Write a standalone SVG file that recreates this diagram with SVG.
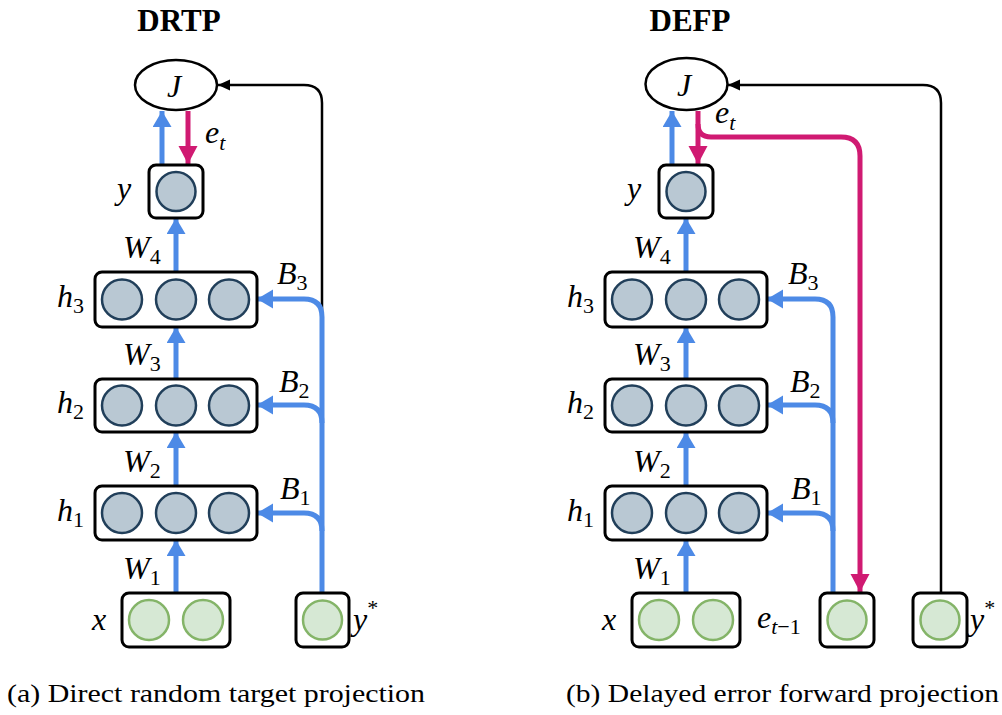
<svg xmlns="http://www.w3.org/2000/svg" width="1002" height="715" viewBox="0 0 1002 715">
  <style>
    .title { font-family: "Liberation Serif", "Times New Roman", serif; font-weight: bold; font-size: 31px; text-anchor: middle; fill: #000; }
    .math { font-family: "Liberation Serif", "Times New Roman", serif; font-style: italic; font-size: 32px; fill: #000; }
    .sub { font-family: "Liberation Serif", "Times New Roman", serif; font-size: 22px; font-style: normal; }
    .subi { font-family: "Liberation Serif", "Times New Roman", serif; font-size: 22px; font-style: italic; }
    .cap { font-family: "Liberation Serif", "Times New Roman", serif; font-size: 26px; fill: #000; }
    .box { fill: #fff; stroke: #000; stroke-width: 3; }
    .hid { fill: #b9c8d3; stroke: #213f5a; stroke-width: 2.5; }
    .inp { fill: #d6e8d4; stroke: #84b468; stroke-width: 2.5; }
    .ell { fill: #fff; stroke: #000; stroke-width: 2.5; }
    .blue { fill: none; stroke: #4d8ae6; stroke-width: 5; }
    .mag { fill: none; stroke: #d01a72; stroke-width: 5; }
    .blk { fill: none; stroke: #000; stroke-width: 2.5; }
  </style>
  <defs>
    <marker id="ahBlue" markerUnits="userSpaceOnUse" markerWidth="18" markerHeight="20" refX="16" refY="9.5" orient="auto">
      <path d="M0,0 L16,9.5 L0,19 Z" fill="#4d8ae6"/>
    </marker>
    <marker id="ahMag" markerUnits="userSpaceOnUse" markerWidth="20" markerHeight="20" refX="18" refY="9.5" orient="auto">
      <path d="M0,0 L18,9.5 L0,19 Z" fill="#d01a72"/>
    </marker>
    <marker id="ahBlk" markerUnits="userSpaceOnUse" markerWidth="14" markerHeight="12" refX="12" refY="5.5" orient="auto">
      <path d="M0,0 L12,5.5 L0,11 Z" fill="#000"/>
    </marker>
  </defs>

  <!-- ===================== DRTP ===================== -->
  <text class="title" x="179" y="31">DRTP</text>

  <!-- connectors (DRTP) -->
  <g id="drtp-edges">
    <path class="blk" d="M322,593 V103 Q322,85 304,85 H218" marker-end="url(#ahBlk)"/>
    <path class="blue" d="M162,165 V111" marker-end="url(#ahBlue)"/>
    <path class="mag" d="M188,111 V164" marker-end="url(#ahMag)"/>
    <path class="blue" d="M176,272 V218" marker-end="url(#ahBlue)"/>
    <path class="blue" d="M176,379 V327" marker-end="url(#ahBlue)"/>
    <path class="blue" d="M176,486 V432" marker-end="url(#ahBlue)"/>
    <path class="blue" d="M176,593 V540" marker-end="url(#ahBlue)"/>
    <path class="blue" d="M322,593 V317 Q322,299 304,299 H257" marker-end="url(#ahBlue)"/>
    <path class="blue" d="M322,423 Q322,405 304,405 H257" marker-end="url(#ahBlue)"/>
    <path class="blue" d="M322,531 Q322,513 304,513 H257" marker-end="url(#ahBlue)"/>
  </g>

  <g id="drtp-J">
    <ellipse class="ell" cx="176" cy="85" rx="41" ry="25"/>
    <text class="math" x="174" y="97" text-anchor="middle" font-size="34">J</text>
  </g>
  <g id="drtp-y">
    <rect class="box" x="149" y="165" width="54" height="53" rx="7"/>
    <circle class="hid" cx="176" cy="191.5" r="19.5"/>
    <text class="math" x="117" y="199">y</text>
  </g>
  <g id="drtp-h3">
    <rect class="box" x="95" y="272" width="162" height="55" rx="7"/>
    <circle class="hid" cx="122" cy="299.5" r="20"/>
    <circle class="hid" cx="176" cy="299.5" r="20"/>
    <circle class="hid" cx="229" cy="299.5" r="20"/>
    <text class="math" x="57" y="307">h<tspan class="sub" dy="6">3</tspan></text>
  </g>
  <g id="drtp-h2">
    <rect class="box" x="95" y="379" width="162" height="53" rx="7"/>
    <circle class="hid" cx="122" cy="405.5" r="20"/>
    <circle class="hid" cx="176" cy="405.5" r="20"/>
    <circle class="hid" cx="229" cy="405.5" r="20"/>
    <text class="math" x="57" y="413">h<tspan class="sub" dy="6">2</tspan></text>
  </g>
  <g id="drtp-h1">
    <rect class="box" x="95" y="486" width="162" height="54" rx="7"/>
    <circle class="hid" cx="122" cy="513" r="20"/>
    <circle class="hid" cx="176" cy="513" r="20"/>
    <circle class="hid" cx="229" cy="513" r="20"/>
    <text class="math" x="57" y="521">h<tspan class="sub" dy="6">1</tspan></text>
  </g>
  <g id="drtp-x">
    <rect class="box" x="122" y="593" width="108" height="54" rx="7"/>
    <circle class="inp" cx="149" cy="620" r="20"/>
    <circle class="inp" cx="203" cy="620" r="20"/>
    <text class="math" x="92" y="630">x</text>
  </g>
  <g id="drtp-ystar">
    <rect class="box" x="296" y="593" width="53" height="54" rx="7"/>
    <circle class="inp" cx="322.5" cy="620" r="19.5"/>
    <text class="math" x="353" y="630">y<tspan class="sub" dy="-15">*</tspan></text>
  </g>

  <g id="drtp-labels">
    <text class="math" x="205" y="143">e<tspan class="subi" dy="7">t</tspan></text>
    <text class="math" x="123" y="258">W<tspan class="sub" dy="6">4</tspan></text>
    <text class="math" x="123" y="365">W<tspan class="sub" dy="6">3</tspan></text>
    <text class="math" x="123" y="472">W<tspan class="sub" dy="6">2</tspan></text>
    <text class="math" x="123" y="579">W<tspan class="sub" dy="6">1</tspan></text>
    <text class="math" x="277" y="284">B<tspan class="sub" dy="6">3</tspan></text>
    <text class="math" x="279" y="392">B<tspan class="sub" dy="6">2</tspan></text>
    <text class="math" x="280" y="499">B<tspan class="sub" dy="6">1</tspan></text>
  </g>

  <!-- ===================== DEFP ===================== -->
  <text class="title" x="690" y="31">DEFP</text>

  <g id="defp-edges">
    <path class="blk" d="M941,593 V103 Q941,85 923,85 H728" marker-end="url(#ahBlk)"/>
    <path class="blue" d="M672,165 V111" marker-end="url(#ahBlue)"/>
    <path class="mag" d="M698,111 V164" marker-end="url(#ahMag)"/>
    <path class="mag" d="M698,124 Q698,137 711,137 H841 Q860,137 860,156 V592" marker-end="url(#ahMag)"/>
    <path class="blue" d="M686,272 V218" marker-end="url(#ahBlue)"/>
    <path class="blue" d="M686,379 V327" marker-end="url(#ahBlue)"/>
    <path class="blue" d="M686,486 V432" marker-end="url(#ahBlue)"/>
    <path class="blue" d="M686,593 V540" marker-end="url(#ahBlue)"/>
    <path class="blue" d="M833,593 V317 Q833,299 815,299 H767" marker-end="url(#ahBlue)"/>
    <path class="blue" d="M833,423 Q833,405 815,405 H767" marker-end="url(#ahBlue)"/>
    <path class="blue" d="M833,531 Q833,513 815,513 H767" marker-end="url(#ahBlue)"/>
  </g>

  <g id="defp-J">
    <ellipse class="ell" cx="686.5" cy="84" rx="41" ry="26"/>
    <text class="math" x="684" y="96" text-anchor="middle" font-size="34">J</text>
  </g>
  <g id="defp-y">
    <rect class="box" x="659" y="165" width="54" height="53" rx="7"/>
    <circle class="hid" cx="686" cy="191.5" r="19.5"/>
    <text class="math" x="627" y="199">y</text>
  </g>
  <g id="defp-h3">
    <rect class="box" x="605" y="272" width="162" height="55" rx="7"/>
    <circle class="hid" cx="632" cy="299.5" r="20"/>
    <circle class="hid" cx="686" cy="299.5" r="20"/>
    <circle class="hid" cx="739" cy="299.5" r="20"/>
    <text class="math" x="567" y="307">h<tspan class="sub" dy="6">3</tspan></text>
  </g>
  <g id="defp-h2">
    <rect class="box" x="605" y="379" width="162" height="53" rx="7"/>
    <circle class="hid" cx="632" cy="405.5" r="20"/>
    <circle class="hid" cx="686" cy="405.5" r="20"/>
    <circle class="hid" cx="739" cy="405.5" r="20"/>
    <text class="math" x="567" y="413">h<tspan class="sub" dy="6">2</tspan></text>
  </g>
  <g id="defp-h1">
    <rect class="box" x="605" y="486" width="162" height="54" rx="7"/>
    <circle class="hid" cx="632" cy="513" r="20"/>
    <circle class="hid" cx="686" cy="513" r="20"/>
    <circle class="hid" cx="739" cy="513" r="20"/>
    <text class="math" x="567" y="521">h<tspan class="sub" dy="6">1</tspan></text>
  </g>
  <g id="defp-x">
    <rect class="box" x="632" y="593" width="108" height="54" rx="7"/>
    <circle class="inp" cx="659" cy="620" r="20"/>
    <circle class="inp" cx="713" cy="620" r="20"/>
    <text class="math" x="602" y="630">x</text>
  </g>
  <g id="defp-eprev">
    <rect class="box" x="820" y="593" width="54" height="54" rx="7"/>
    <circle class="inp" cx="847" cy="620" r="19.5"/>
    <text class="math" x="757" y="628">e<tspan class="subi" dy="6">t</tspan><tspan class="sub">−1</tspan></text>
  </g>
  <g id="defp-ystar">
    <rect class="box" x="913" y="593" width="54" height="54" rx="7"/>
    <circle class="inp" cx="940" cy="620" r="19.5"/>
    <text class="math" x="970" y="630">y<tspan class="sub" dy="-15">*</tspan></text>
  </g>

  <g id="defp-labels">
    <text class="math" x="715" y="123">e<tspan class="subi" dy="7">t</tspan></text>
    <text class="math" x="633" y="258">W<tspan class="sub" dy="6">4</tspan></text>
    <text class="math" x="633" y="365">W<tspan class="sub" dy="6">3</tspan></text>
    <text class="math" x="633" y="472">W<tspan class="sub" dy="6">2</tspan></text>
    <text class="math" x="633" y="579">W<tspan class="sub" dy="6">1</tspan></text>
    <text class="math" x="788" y="284">B<tspan class="sub" dy="6">3</tspan></text>
    <text class="math" x="790" y="392">B<tspan class="sub" dy="6">2</tspan></text>
    <text class="math" x="791" y="499">B<tspan class="sub" dy="6">1</tspan></text>
  </g>

  <!-- captions -->
  <text class="cap" x="7" y="702" textLength="418" lengthAdjust="spacingAndGlyphs">(a) Direct random target projection</text>
  <text class="cap" x="566" y="702" textLength="433" lengthAdjust="spacingAndGlyphs">(b) Delayed error forward projection</text>
</svg>
